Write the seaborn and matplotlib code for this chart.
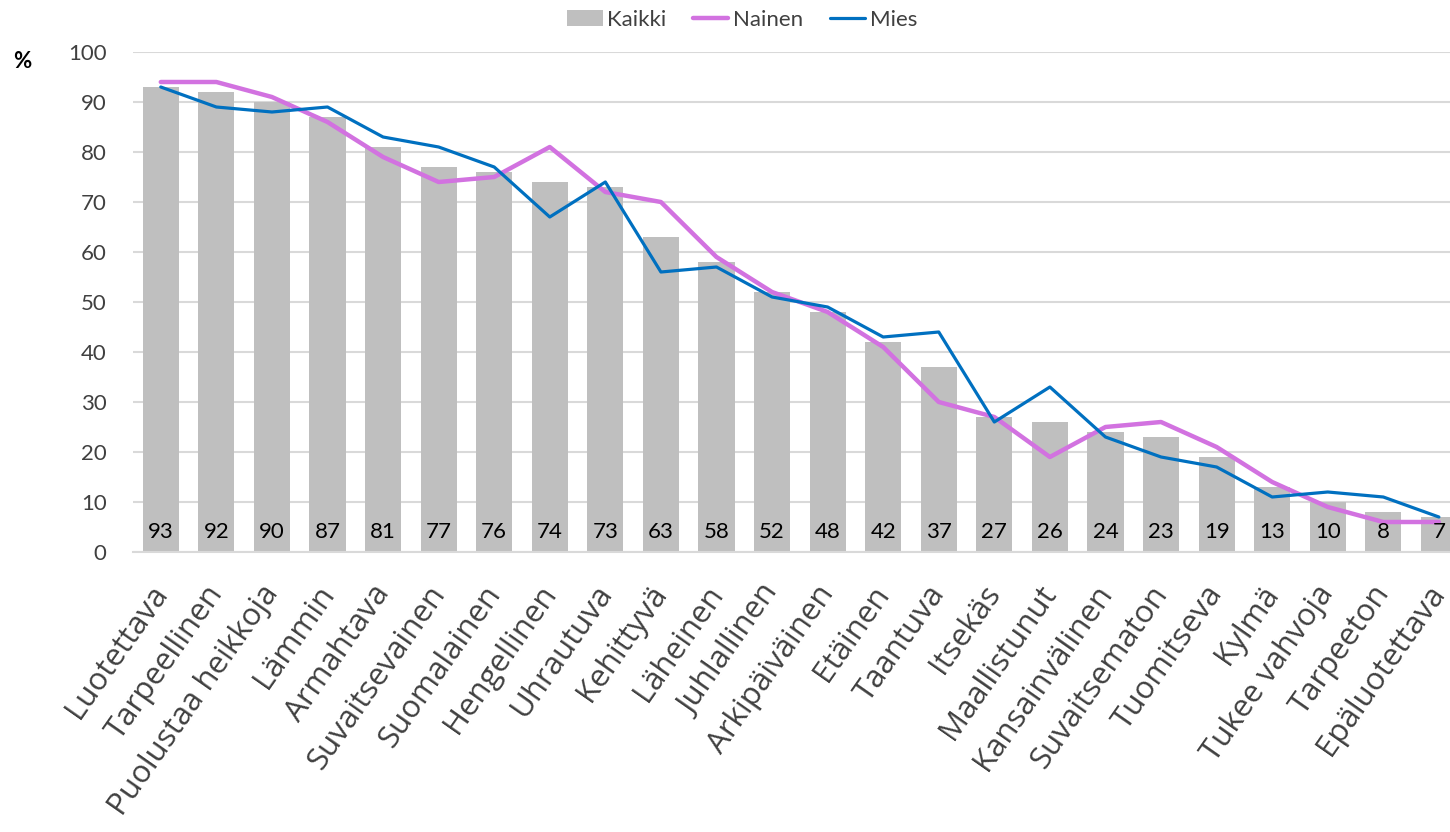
import numpy as np
import pandas as pd
import matplotlib
matplotlib.use("Agg")
import matplotlib.pyplot as plt
import matplotlib.transforms as mtransforms
import seaborn as sns
from matplotlib.patches import Patch
from matplotlib.lines import Line2D

categories = ["Luotettava", "Tarpeellinen", "Puolustaa heikkoja", "Lämmin", "Armahtava",
              "Suvaitsevainen", "Suomalainen", "Hengellinen", "Uhrautuva", "Kehittyvä",
              "Läheinen", "Juhlallinen", "Arkipäiväinen", "Etäinen", "Taantuva", "Itsekäs",
              "Maallistunut", "Kansainvälinen", "Suvaitsematon", "Tuomitseva", "Kylmä",
              "Tukee vahvoja", "Tarpeeton", "Epäluotettava"]
kaikki = [93, 92, 90, 87, 81, 77, 76, 74, 73, 63, 58, 52, 48, 42, 37, 27, 26, 24, 23, 19, 13, 10, 8, 7]
nainen = [94, 94, 91, 86, 79, 74, 75, 81, 72, 70, 59, 52, 48, 41, 30, 27, 19, 25, 26, 21, 14, 9, 6, 6]
mies = [93, 89, 88, 89, 83, 81, 77, 67, 74, 56, 57, 51, 49, 43, 44, 26, 33, 23, 19, 17, 11, 12, 11, 7]
yticks = [0, 10, 20, 30, 40, 50, 60, 70, 80, 90, 100]

sns.set_theme(style="white")
plt.rcParams['font.family'] = ['Lato', 'DejaVu Sans']

W, H = 1450, 832
fig = plt.figure(figsize=(W / 100, H / 100), dpi=100)
ax = fig.add_axes([133 / W, (H - 552) / H, (W - 133) / W, 500 / H])

pos = np.arange(len(categories))
df = pd.DataFrame({"cat": categories, "Kaikki": kaikki, "Nainen": nainen, "Mies": mies, "pos": pos})

bar_color = "#bfbfbf"
n_color = "#d272e0"
m_color = "#0070c0"

sns.barplot(data=df, x="cat", y="Kaikki", color=bar_color, width=0.65, ax=ax,
            saturation=1, edgecolor="none", zorder=2)
sns.lineplot(data=df, x="pos", y="Nainen", color=n_color, lw=3.2, ax=ax, zorder=3)
sns.lineplot(data=df, x="pos", y="Mies", color=m_color, lw=2.3, ax=ax, zorder=4)

for p, v in zip(pos, kaikki):
    ax.text(p, 4, str(v), ha="center", va="center", fontsize=16, color="black", zorder=5)

ax.set_ylim(0, 100)
ax.set_xlim(-0.5, 23.2)
ax.set_yticks(yticks)
ax.set_yticklabels([str(t) for t in yticks], fontsize=16, color="#404040")
ax.tick_params(axis="y", length=0, pad=19)
ax.set_xticks(pos)
ax.set_xticklabels(categories, rotation=55, ha="right", rotation_mode="anchor",
                   fontsize=22.5, color="#404040", family=["Open Sans", "DejaVu Sans"])
ax.tick_params(axis="x", length=0, pad=20)
offset = mtransforms.ScaledTranslation(-12 / 100, 0, fig.dpi_scale_trans)
for lbl in ax.get_xticklabels():
    lbl.set_transform(lbl.get_transform() + offset)
ax.set_xlabel("")
ax.set_ylabel("")
ax.grid(axis="y", color="#d9d9d9", lw=1.5, zorder=0)
ax.set_axisbelow(True)
for s in ["top", "right", "left"]:
    ax.spines[s].set_visible(False)
ax.spines["bottom"].set_color("#d9d9d9")
ax.spines["bottom"].set_linewidth(1.5)

fig.text(22 / W, 1 - 62 / H, "%", fontsize=16, fontweight="bold", ha="center", va="center", color="black")

handles = [Patch(facecolor=bar_color, edgecolor="none"),
           Line2D([0], [0], color=n_color, lw=3.2),
           Line2D([0], [0], color=m_color, lw=2.3)]
fig.legend(handles, ["Kaikki", "Nainen", "Mies"], loc="center", bbox_to_anchor=(742 / W, 1 - 20 / H),
           ncol=3, frameon=False, fontsize=16, handlelength=1.6, handletextpad=0.2,
           columnspacing=1.2, labelcolor="#404040")

fig.savefig("out.png", dpi=100)
